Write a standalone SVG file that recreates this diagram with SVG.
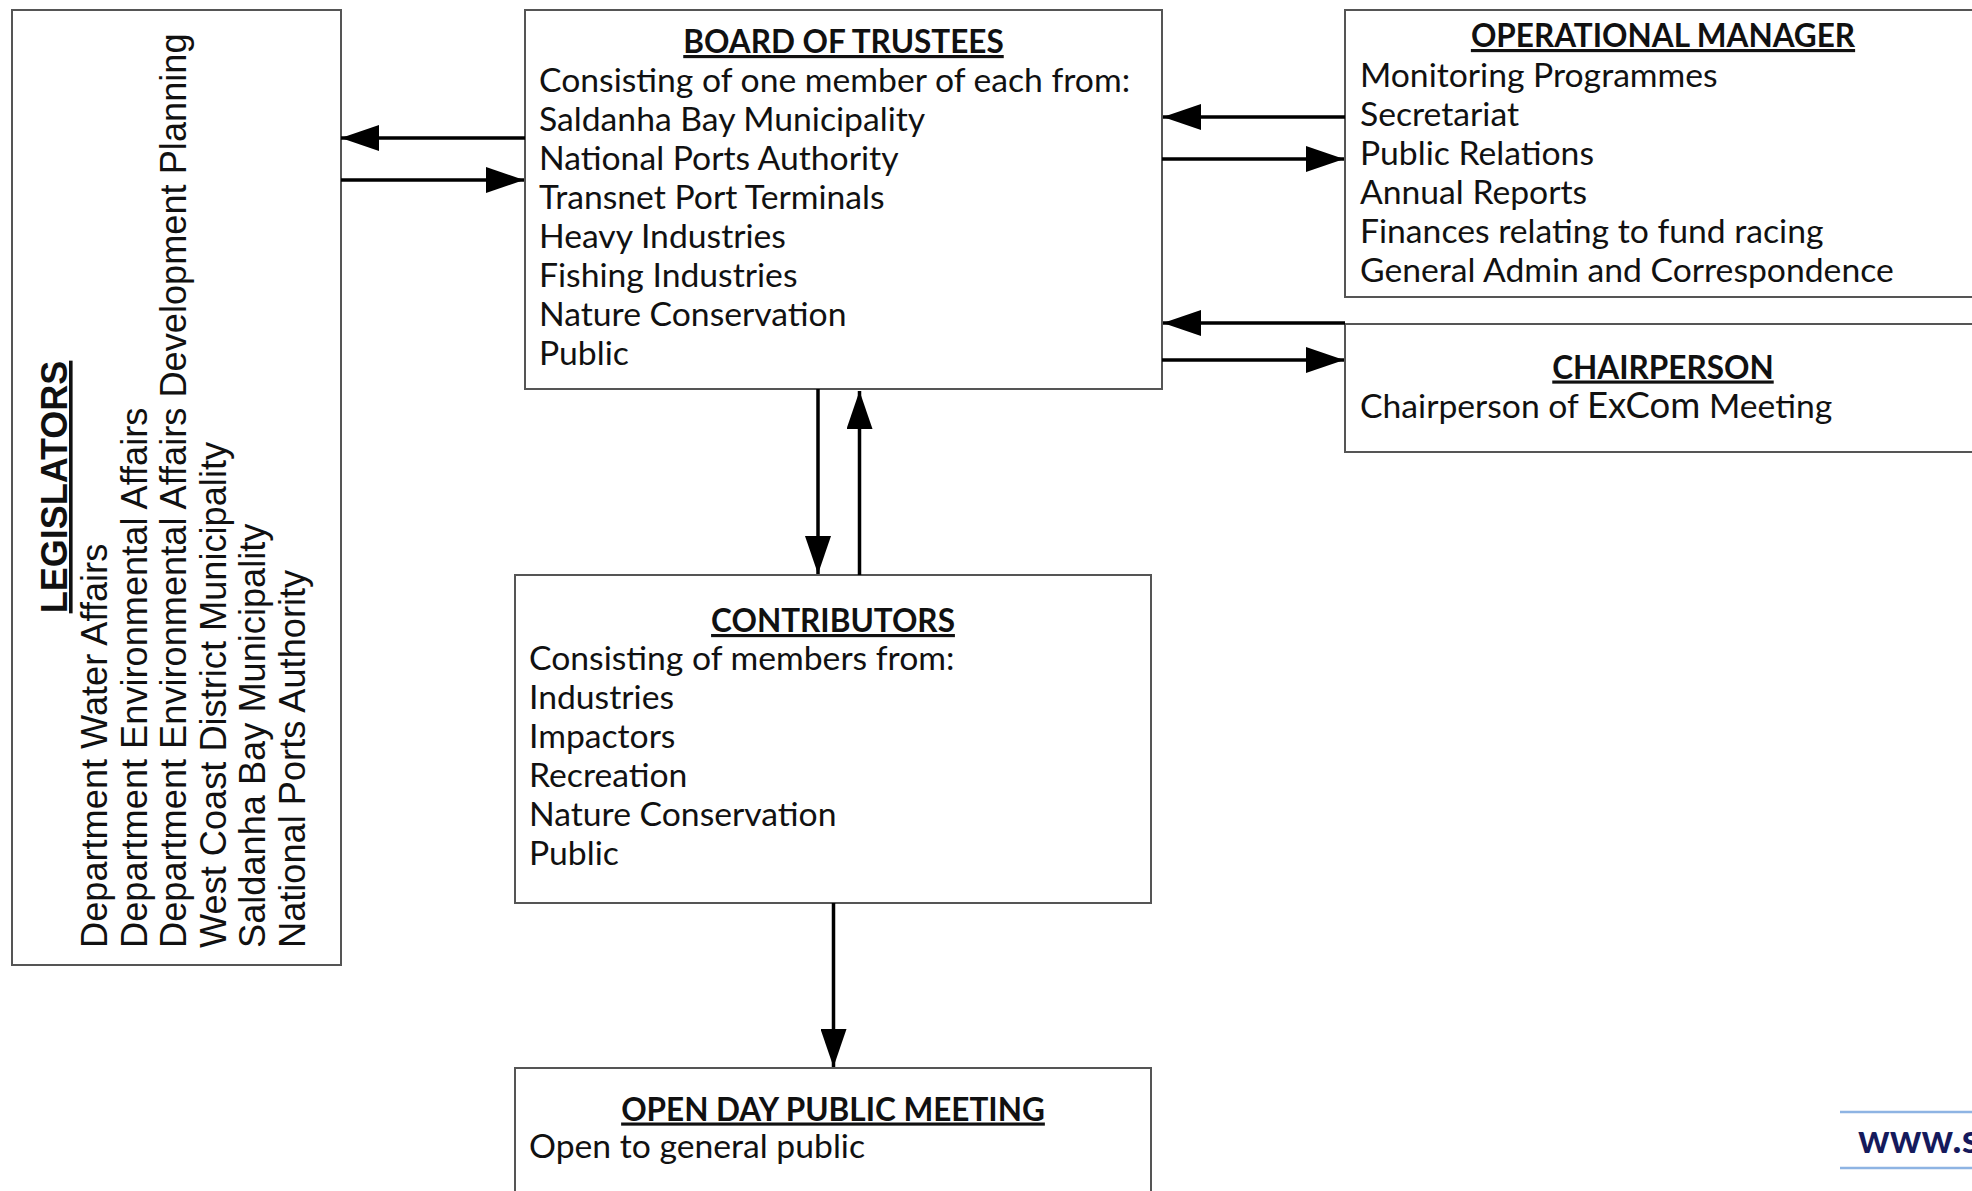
<svg xmlns="http://www.w3.org/2000/svg" width="1972" height="1191" viewBox="0 0 1972 1191">
  <style>
    .box { fill: #ffffff; stroke: #555555; stroke-width: 2; }
    .t { font-family: Lato, "Open Sans", sans-serif; font-size: 33.7px; fill: #111111; }
    .h { font-family: Lato, "Open Sans", sans-serif; font-size: 31.5px; font-weight: bold; fill: #111111; text-anchor: middle; text-decoration: underline; }
    .v { font-family: "Liberation Sans", Arial, sans-serif; font-size: 36.2px; fill: #111111; }
    .vh { font-family: "Liberation Sans", Arial, sans-serif; font-size: 36px; font-weight: bold; fill: #111111; text-anchor: middle; text-decoration: underline; }
    .c { stroke: #000000; stroke-width: 3.5; fill: none; marker-end: url(#ah); }
  </style>
  <defs>
    <marker id="ah" markerUnits="userSpaceOnUse" markerWidth="38" markerHeight="26" refX="38" refY="13" orient="auto" viewBox="0 0 38 26">
      <path d="M0,0 L38,13 L0,26 Z" fill="#000000"/>
    </marker>
  </defs>
  <rect width="1972" height="1191" fill="#ffffff"/>

  <g id="legislators">
    <rect class="box" x="12" y="10" width="329" height="955"/>
    <text class="vh" transform="translate(67,487) rotate(-90)">LEGISLATORS</text>
    <text class="v" transform="translate(107,948) rotate(-90)">Department Water Affairs</text>
    <text class="v" transform="translate(146.5,948) rotate(-90)">Department Environmental Affairs</text>
    <text class="v" transform="translate(186,948) rotate(-90)">Department Environmental Affairs Development Planning</text>
    <text class="v" transform="translate(225.5,948) rotate(-90)">West Coast District Municipality</text>
    <text class="v" transform="translate(265,948) rotate(-90)">Saldanha Bay Municipality</text>
    <text class="v" transform="translate(304.5,948) rotate(-90)">National Ports Authority</text>
  </g>

  <g id="board">
    <rect class="box" x="525" y="10" width="637" height="379"/>
    <text class="h" x="843.5" y="53">BOARD OF TRUSTEES</text>
    <text class="t" x="539" y="92">Consisting of one member of each from:</text>
    <text class="t" x="539" y="131">Saldanha Bay Municipality</text>
    <text class="t" x="539" y="170">National Ports Authority</text>
    <text class="t" x="539" y="209">Transnet Port Terminals</text>
    <text class="t" x="539" y="248">Heavy Industries</text>
    <text class="t" x="539" y="287">Fishing Industries</text>
    <text class="t" x="539" y="326">Nature Conservation</text>
    <text class="t" x="539" y="365">Public</text>
  </g>

  <g id="operational-manager">
    <rect class="box" x="1345" y="10" width="640" height="287"/>
    <text class="h" x="1663" y="47">OPERATIONAL MANAGER</text>
    <text class="t" x="1360" y="86.5">Monitoring Programmes</text>
    <text class="t" x="1360" y="125.5">Secretariat</text>
    <text class="t" x="1360" y="164.5">Public Relations</text>
    <text class="t" x="1360" y="203.5">Annual Reports</text>
    <text class="t" x="1360" y="242.5">Finances relating to fund racing</text>
    <text class="t" x="1360" y="281.5">General Admin and Correspondence</text>
  </g>

  <g id="chairperson">
    <rect class="box" x="1345" y="324" width="640" height="128"/>
    <text class="h" x="1663" y="378.5">CHAIRPERSON</text>
    <text class="t" x="1360" y="417.5">Chairperson of <tspan font-size="36.5">ExCom</tspan> Meeting</text>
  </g>

  <g id="contributors">
    <rect class="box" x="515" y="575" width="636" height="328"/>
    <text class="h" x="833" y="632">CONTRIBUTORS</text>
    <text class="t" x="529" y="670">Consisting of members from:</text>
    <text class="t" x="529" y="709">Industries</text>
    <text class="t" x="529" y="748">Impactors</text>
    <text class="t" x="529" y="787">Recreation</text>
    <text class="t" x="529" y="826">Nature Conservation</text>
    <text class="t" x="529" y="865">Public</text>
  </g>

  <g id="open-day">
    <rect class="box" x="515" y="1068" width="636" height="135"/>
    <text class="h" x="833" y="1120.5">OPEN DAY PUBLIC MEETING</text>
    <text class="t" x="529" y="1158">Open to general public</text>
  </g>

  <g id="website">
    <line x1="1840" y1="1112" x2="1972" y2="1112" stroke="#8eb4e3" stroke-width="2.5"/>
    <line x1="1840" y1="1168" x2="1972" y2="1168" stroke="#8eb4e3" stroke-width="2.5"/>
    <text x="1858" y="1153" font-family="Lato, 'Open Sans', sans-serif" font-size="39.5" font-weight="bold" fill="#151a5c">www.s</text>
  </g>

  <g id="connectors">
    <line class="c" x1="525" y1="138" x2="341" y2="138"/>
    <line class="c" x1="341" y1="180" x2="524" y2="180"/>
    <line class="c" x1="1345" y1="117" x2="1163" y2="117"/>
    <line class="c" x1="1162" y1="159" x2="1344" y2="159"/>
    <line class="c" x1="1345" y1="323" x2="1163" y2="323"/>
    <line class="c" x1="1162" y1="360" x2="1344" y2="360"/>
    <line class="c" x1="818" y1="389" x2="818" y2="574"/>
    <line class="c" x1="859.5" y1="575" x2="859.5" y2="391"/>
    <line class="c" x1="833.5" y1="903" x2="833.5" y2="1067"/>
  </g>
</svg>
